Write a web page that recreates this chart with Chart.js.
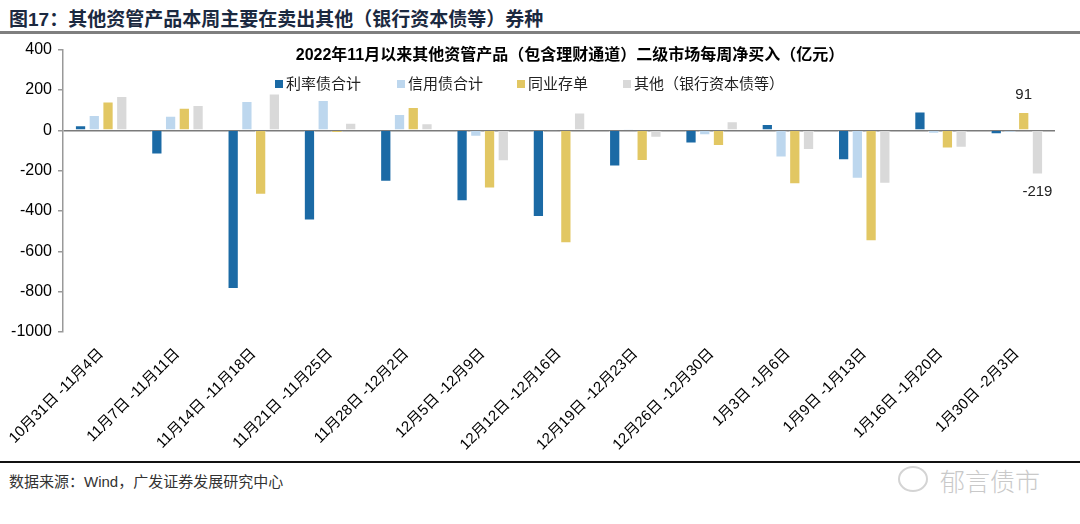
<!DOCTYPE html>
<html>
<head>
<meta charset="utf-8">
<script src="https://cdn.jsdelivr.net/npm/chart.js@4.4.1/dist/chart.umd.min.js"></script>
<style>
  html, body { margin: 0; padding: 0; background: #fff; }
  body { width: 1080px; height: 524px; position: relative; overflow: hidden;
         font-family: "Liberation Sans", Arial, "Noto Sans CJK SC", sans-serif; }
  .abs { position: absolute; white-space: nowrap; }
  #figTitle { left: 9px; top: 4px; font-size: 19px; font-weight: bold; color: #1b2940; }
  #topRule { left: 0; top: 31px; width: 1080px; height: 3px; background: #7f7f7f; }
  #botRule { left: 0; top: 461px; width: 1080px; height: 2px; background: #111; }
  #source { left: 9px; top: 470px; font-size: 15px; color: #333; }
  #mark { left: 940px; top: 462px; font-size: 25px; color: #c9c9c9; font-family: "Noto Sans CJK SC", sans-serif; font-weight: 300; }
  #bubble { left: 898px; top: 466px; width: 26px; height: 22px; border: 2px solid #d4d4d4; border-radius: 50%; }
  #chartTitle { left: 0; width: 1140px; top: 41px; text-align: center; font-size: 16px; font-weight: bold; color: #000; }
  .lg { position: absolute; top: 72px; font-size: 15px; color: #222; white-space: nowrap; }
  .lg i { display: inline-block; width: 8px; height: 8px; margin-right: 3px; vertical-align: 1px; }
  #wrap { position: absolute; left: 0; top: 34px; width: 1080px; height: 420px; }
</style>
</head>
<body>
<div class="abs" id="figTitle">图17：其他资管产品本周主要在卖出其他（银行资本债等）券种</div>
<div class="abs" id="topRule"></div>
<div id="wrap"><canvas id="chart"></canvas></div>
<div class="abs" id="chartTitle">2022年11月以来其他资管产品（包含理财通道）二级市场每周净买入（亿元）</div>
<div id="legend"></div>
<div class="abs" id="botRule"></div>
<div class="abs" id="source">数据来源：Wind，广发证券发展研究中心</div>
<div class="abs" id="bubble"></div>
<div class="abs" id="mark">郁言债市</div>
<script>
// weekly net buying by other asset-management products, 亿元
const weeks = ['10月31日 -11月4日', '11月7日 -11月11日', '11月14日 -11月18日', '11月21日 -11月25日',
  '11月28日 -12月2日', '12月5日 -12月9日', '12月12日 -12月16日', '12月19日 -12月23日',
  '12月26日 -12月30日', '1月3日 -1月6日', '1月9日 -1月13日', '1月16日 -1月20日', '1月30日 -2月3日'];
const seriesNames = ['利率债合计', '信用债合计', '同业存单', '其他（银行资本债等）'];
const rateBonds   = [25, -120, -787, -447, -255, -352, -430, -180, -65, 31, -148, 93, -20];
const creditBonds = [76, 72, 145, 150, 81, -32, -2, 2, -25, -135, -240, -17, -12];
const ncds        = [143, 112, -320, -13, 116, -288, -560, -152, -78, -268, -550, -90, 91];
const others      = [170, 125, 182, 37, 35, -153, 88, -37, 45, -98, -265, -87, -219];
const yTicks = [400, 200, 0, -200, -400, -600, -800, -1000];
const colors = ['#1b6aa5', '#bdd7ee', '#e2c763', '#d9d9d9'];
const legendX = [275, 397, 517, 623];

const lg = document.getElementById('legend');
seriesNames.forEach((n, i) => {
  const d = document.createElement('div');
  d.className = 'lg';
  d.style.left = legendX[i] + 'px';
  d.innerHTML = '<i style="background:' + colors[i] + '"></i>' + n;
  lg.appendChild(d);
});

// labels on the last week's 同业存单 and 其他 bars
const lastLabels = {
  id: 'lastLabels',
  afterDatasetsDraw(chart) {
    const ctx = chart.ctx;
    ctx.save();
    ctx.font = '15px "Liberation Sans", Arial, sans-serif';
    ctx.fillStyle = '#222';
    ctx.textAlign = 'center';
    [2, 3].forEach(di => {
      const meta = chart.getDatasetMeta(di);
      const idx = weeks.length - 1;
      const bar = meta.data[idx];
      const v = chart.data.datasets[di].data[idx];
      if (v >= 0) { ctx.textBaseline = 'bottom'; ctx.fillText(String(v), bar.x, bar.y - 10); }
      else { ctx.textBaseline = 'top'; ctx.fillText(String(v), bar.x, bar.y + 10); }
    });
    ctx.restore();
  }
};

const data = [rateBonds, creditBonds, ncds, others];
new Chart(document.getElementById('chart').getContext('2d'), {
  type: 'bar',
  data: {
    labels: weeks,
    datasets: seriesNames.map((n, i) => ({
      label: n, data: data[i], backgroundColor: colors[i],
      borderColor: 'rgba(255,255,255,0.5)', borderWidth: 1,
      categoryPercentage: 0.72, barPercentage: 0.82
    }))
  },
  options: {
    responsive: true, maintainAspectRatio: false, animation: false,
    layout: { padding: { top: 3, right: 25, left: 0, bottom: 0 } },
    plugins: { legend: { display: false }, title: { display: false }, tooltip: { enabled: false } },
    scales: {
      x: {
        grid: { display: false }, border: { display: false },
        ticks: { autoSkip: false, minRotation: 45, maxRotation: 45, padding: 5, color: '#000',
                 font: { size: 15, family: '"Liberation Sans", Arial, "Noto Sans CJK SC", sans-serif' } },
        afterFit(s) { s.height = 122; }
      },
      y: {
        min: -1000, max: 400,
        afterBuildTicks(s) { s.ticks = yTicks.map(v => ({ value: v })); },
        grid: {
          color: c => (c.tick && c.tick.value === 0) ? '#7a7a7a' : 'rgba(0,0,0,0)',
          lineWidth: 1.5, tickColor: '#999', tickLength: 5
        },
        border: { display: true, color: '#999', width: 1.5 },
        ticks: { color: '#000', padding: 6, callback: v => String(v),
                 font: { size: 16, family: '"Liberation Sans", Arial, sans-serif' } },
        afterFit(s) { s.width = 63; }
      }
    }
  },
  plugins: [lastLabels]
});
</script>
</body>
</html>
